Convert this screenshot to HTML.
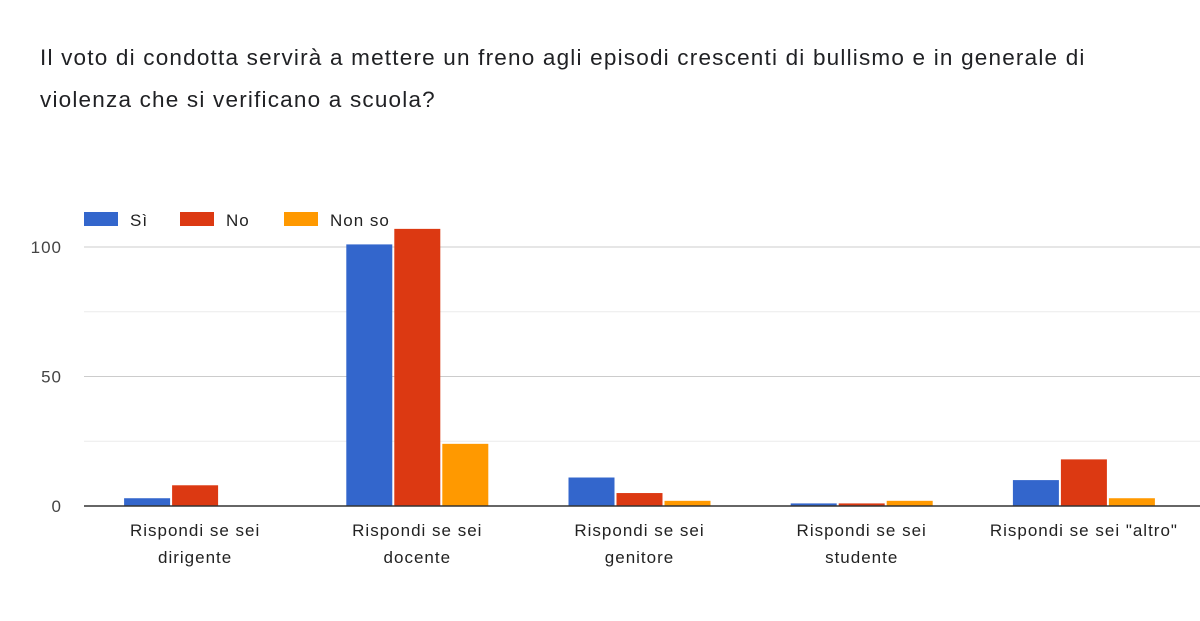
<!DOCTYPE html>
<html><head><meta charset="utf-8"><style>
body{margin:0;background:#fff;font-family:"Liberation Sans",Arial,sans-serif;}
#t{position:absolute;left:40px;top:37px;font-size:22.5px;letter-spacing:1.2px;line-height:42px;color:#202124;white-space:nowrap}
svg text{letter-spacing:1px}
</style></head><body>
<div id="t">Il voto di condotta servirà a mettere un freno agli episodi crescenti di bullismo e in generale di<br>violenza che si verificano a scuola?</div>
<svg id="c" width="1200" height="621" style="position:absolute;left:0;top:0"></svg>
<script>
const categories=[["Rispondi se sei","dirigente"],["Rispondi se sei","docente"],["Rispondi se sei","genitore"],["Rispondi se sei","studente"],["Rispondi se sei \"altro\""]];
const seriesNames=["Sì","No","Non so"];
const seriesColors=["#3366cc","#dc3912","#ff9900"];
const siValues=[3,101,11,1,10];
const noValues=[8,107,5,1,18];
const nonSoValues=[0,24,2,2,3];
const yTicks=[0,50,100];
const gridVals=[25,50,75,100];
const series=[siValues,noValues,nonSoValues];
const NS="http://www.w3.org/2000/svg";
const svg=document.getElementById('c');
const x0=84,plotW=1111,y0=506,pxPerUnit=2.59;
const y=v=>y0-v*pxPerUnit;
const groupW=plotW/categories.length;
const barW=46,gap=2;
function mk(tag,attrs){const e=document.createElementNS(NS,tag);for(const k in attrs)e.setAttribute(k,attrs[k]);svg.appendChild(e);return e;}
gridVals.forEach(v=>{const l=mk('line',{x1:x0,x2:1200,y1:y(v),y2:y(v),stroke:v%50==0?'#ccc':'#ebebeb','stroke-width':1});

});
yTicks.forEach(v=>{const t=mk('text',{x:62,y:y(v)+6,'text-anchor':'end','font-size':17,fill:'#444'});t.textContent=v;

});
series.forEach((s,si)=>{s.forEach((v,ci)=>{
const cx=x0+groupW*(ci+0.5);
const bx=cx-(3*barW+2*gap)/2+si*(barW+gap);
const r=mk('rect',{x:bx,y:y(v),width:barW,height:v*pxPerUnit,fill:seriesColors[si]});

});});
const ax=mk('line',{x1:x0,x2:1200,y1:y0,y2:y0,stroke:'#333','stroke-width':1.5});


categories.forEach((c,ci)=>{const cx=x0+groupW*(ci+0.5);c.forEach((ln,li)=>{
const t=mk('text',{x:cx,y:536+li*27,'text-anchor':'middle','font-size':17,fill:'#222'});t.textContent=ln;

});});
const legX=[84,180,284];
seriesNames.forEach((n,i)=>{const r=mk('rect',{x:legX[i],y:212,width:34,height:14,fill:seriesColors[i]});


const t=mk('text',{x:legX[i]+46,y:226,'font-size':17,fill:'#222'});t.textContent=n;

});
</script>
</body></html>
